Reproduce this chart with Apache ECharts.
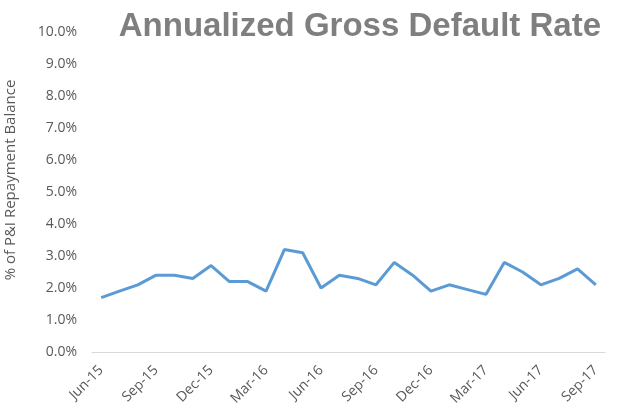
<!DOCTYPE html>
<html>
<head>
<meta charset="utf-8">
<script src="https://cdn.jsdelivr.net/npm/echarts@6/dist/echarts.min.js"></script>
<style>
  html, body { margin: 0; padding: 0; background: #fff; }
  #myChart { width: 623px; height: 415px; }
</style>
</head>
<body>
<div id="myChart"></div>
<script>
// monthly categories Jun-15 .. Sep-17
const months = [
  "Jun-15", "Jul-15", "Aug-15", "Sep-15", "Oct-15", "Nov-15", "Dec-15",
  "Jan-16", "Feb-16", "Mar-16", "Apr-16", "May-16", "Jun-16", "Jul-16",
  "Aug-16", "Sep-16", "Oct-16", "Nov-16", "Dec-16", "Jan-17", "Feb-17",
  "Mar-17", "Apr-17", "May-17", "Jun-17", "Jul-17", "Aug-17", "Sep-17",
];
// annualized gross default rate, percent
const defaultRate = [
  1.7, 1.9, 2.1, 2.4, 2.4, 2.3, 2.7,
  2.2, 2.2, 1.9, 3.2, 3.1, 2.0, 2.4,
  2.3, 2.1, 2.8, 2.4, 1.9, 2.1, 1.95,
  1.8, 2.8, 2.5, 2.1, 2.3, 2.6, 2.1,
];
const yTicks = { min: 0, max: 10, step: 1 };

let chart = echarts.init(document.getElementById("myChart"));
let option = {
  title: {
    text: "Annualized Gross Default Rate",
    right: 17,
    top: 5,
    textStyle: {
      fontFamily: "Liberation Sans",
      fontWeight: "bold",
      fontSize: 33,
      color: "#7f7f7f",
    },
  },
  grid: {
    left: 92,
    right: 18,
    top: 32,
    bottom: 63,
    outerBoundsMode: "none",
  },
  xAxis: {
    type: "category",
    data: months,
    boundaryGap: true,
    axisLine: { lineStyle: { color: "#d9d9d9", width: 1 } },
    axisTick: { show: false },
    axisLabel: {
      interval: 2,
      rotate: 45,
      margin: 16,
      fontFamily: "Open Sans",
      fontSize: 14,
      color: "#595959",
    },
  },
  yAxis: {
    type: "value",
    min: yTicks.min,
    max: yTicks.max,
    interval: yTicks.step,
    name: "% of P&I Repayment Balance",
    nameLocation: "middle",
    nameGap: 74,
    nameTextStyle: {
      fontFamily: "Open Sans",
      fontSize: 15,
      color: "#595959",
      padding: [0, 0, 0, 24],
    },
    axisLine: { show: false },
    axisTick: { show: false },
    splitLine: { show: false },
    axisLabel: {
      margin: 15,
      fontFamily: "Open Sans",
      fontSize: 14,
      color: "#595959",
      formatter: (v) => v.toFixed(1) + "%",
    },
  },
  series: [
    {
      type: "line",
      data: defaultRate,
      showSymbol: false,
      smooth: false,
      lineStyle: { color: "#5b9bd5", width: 3 },
      itemStyle: { color: "#5b9bd5" },
    },
  ],
  animation: false,
};
chart.setOption(option);
</script>
</body>
</html>
